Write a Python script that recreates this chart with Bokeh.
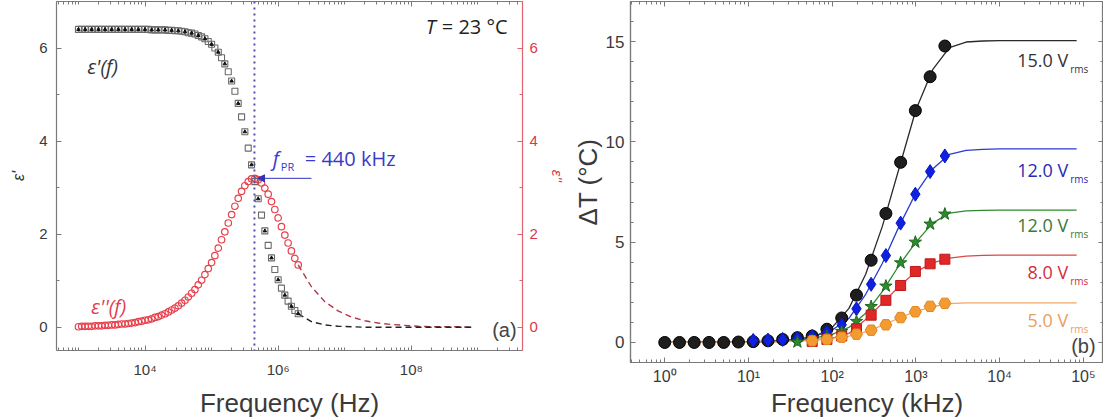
from bokeh.plotting import figure
from bokeh.models import (LogAxis, LinearAxis, FixedTicker, SingleIntervalTicker, Span,
                          Label, Arrow, NormalHead, CustomJSTickFormatter)
from bokeh.layouts import row, column
from bokeh.embed import file_html
from bokeh.resources import INLINE

# ---------------- panel (a): dielectric spectrum (measured points) ----------------
eps_freq_hz = [1.00e3, 1.12e3, 1.26e3, 1.41e3, 1.58e3, 1.78e3, 2.00e3, 2.24e3, 2.51e3, 2.82e3,
               3.16e3, 3.55e3, 3.98e3, 4.47e3, 5.01e3, 5.62e3, 6.31e3, 7.08e3, 7.94e3, 8.91e3,
               1.00e4, 1.12e4, 1.26e4, 1.41e4, 1.58e4, 1.78e4, 2.00e4, 2.24e4, 2.51e4, 2.82e4,
               3.16e4, 3.55e4, 3.98e4, 4.47e4, 5.01e4, 5.62e4, 6.31e4, 7.08e4, 7.94e4, 8.91e4,
               1.00e5, 1.12e5, 1.26e5, 1.41e5, 1.58e5, 1.78e5, 2.00e5, 2.24e5, 2.51e5, 2.82e5,
               3.16e5, 3.55e5, 3.98e5, 4.47e5, 5.01e5, 5.62e5, 6.31e5, 7.08e5, 7.94e5, 8.91e5,
               1.00e6, 1.12e6, 1.26e6, 1.41e6, 1.58e6, 1.78e6, 2.00e6]
eps_real = [6.40, 6.40, 6.40, 6.40, 6.40, 6.40, 6.40, 6.40, 6.40, 6.40,
            6.40, 6.40, 6.40, 6.40, 6.40, 6.40, 6.40, 6.40, 6.40, 6.40,
            6.40, 6.40, 6.39, 6.39, 6.39, 6.39, 6.39, 6.38, 6.38, 6.37,
            6.37, 6.36, 6.35, 6.33, 6.32, 6.30, 6.27, 6.24, 6.20, 6.14,
            6.08, 6.00, 5.91, 5.79, 5.66, 5.49, 5.29, 5.07, 4.81, 4.52,
            4.20, 3.85, 3.49, 3.13, 2.76, 2.41, 2.07, 1.76, 1.49, 1.24,
            1.02, 0.84, 0.69, 0.56, 0.45, 0.36, 0.29]
eps_imag = [0.01, 0.02, 0.02, 0.02, 0.02, 0.03, 0.03, 0.03, 0.04, 0.04,
            0.05, 0.05, 0.06, 0.07, 0.07, 0.08, 0.09, 0.10, 0.12, 0.13,
            0.15, 0.16, 0.18, 0.21, 0.23, 0.26, 0.29, 0.33, 0.37, 0.41,
            0.46, 0.52, 0.58, 0.65, 0.73, 0.81, 0.91, 1.01, 1.13, 1.26,
            1.39, 1.54, 1.70, 1.88, 2.05, 2.24, 2.42, 2.60, 2.77, 2.92,
            3.04, 3.13, 3.19, 3.20, 3.17, 3.10, 2.99, 2.86, 2.70, 2.53,
            2.35, 2.16, 1.98, 1.81, 1.64, 1.48, 1.34]
# fitted relaxation curves (dashed)
fit_freq_hz = [2.0e6, 3.16e6, 5.01e6, 7.94e6, 1.26e7, 2.0e7, 3.16e7, 5.01e7, 7.94e7,
               1.26e8, 2.0e8, 3.16e8, 5.01e8, 7.94e8]
fit_eps_real = [0.29, 0.12, 0.05, 0.02, 0.01, 0.0, 0.0, 0.0, 0.0, 0.0, 0.0, 0.0, 0.0, 0.0]
fit_eps_imag = [1.34, 0.87, 0.55, 0.35, 0.22, 0.14, 0.09, 0.06, 0.04, 0.02, 0.01, 0.01, 0.01, 0.0]
f_pr_hz = 440e3

left_xtick_values = [1e4, 1e6, 1e8]
left_xtick_labels = ["10\u2074", "10\u2076", "10\u2078"]

# ---------------- panel (b): heating vs frequency ----------------
dt_freq_khz = [1, 1.5, 2.25, 3.38, 5.06, 7.59, 11.4, 17.1, 25.6, 38.4,
               57.7, 86.5, 130, 195, 292, 438, 657, 985, 1478, 2217]
dt_15v = [0, 0, 0, 0, 0, 0.02, 0.04, 0.08, 0.15, 0.24,
          0.32, 0.66, 1.22, 2.36, 4.10, 6.43, 8.98, 11.56, 13.25, 14.78]
dt_12v_blue = [0.10, 0.12, 0.15, 0.20, 0.30, 0.51, 0.88, 1.68, 2.90, 4.33, 5.95, 7.39, 8.52, 9.30]
dt_12v_green = [0.02, 0.10, 0.30, 0.55, 1.05, 1.79, 2.81, 3.97, 5.00, 5.90, 6.40]
dt_8v = [0.05, 0.15, 0.32, 0.68, 1.36, 2.10, 2.84, 3.54, 3.92, 4.15]
dt_5v = [0.08, 0.15, 0.26, 0.41, 0.61, 0.88, 1.24, 1.53, 1.80, 1.95]

fit_freq_khz = [1, 10, 25.1, 39.8, 63.1, 100, 158.5, 251.2, 398.1, 631, 1000, 1585,
                2512, 3981, 6310, 10000, 31623, 83176]
fit_15v = [0, 0.02, 0.06, 0.12, 0.30, 0.75, 1.70, 3.40, 5.80, 8.70, 11.60, 13.60,
           14.70, 14.98, 15.03, 15.05, 15.05, 15.05]
fit_12v_blue = [0, 0.03, 0.10, 0.18, 0.33, 0.62, 1.20, 2.40, 3.95, 5.80, 7.45, 8.65,
                9.38, 9.58, 9.63, 9.65, 9.65, 9.65]
fit_12v_green = [0, 0.02, 0.06, 0.12, 0.23, 0.40, 0.75, 1.45, 2.55, 3.85, 5.00, 5.95,
                 6.45, 6.56, 6.59, 6.60, 6.60, 6.60]
fit_8v = [0, 0.01, 0.04, 0.08, 0.14, 0.22, 0.45, 1.15, 1.95, 2.80, 3.52, 3.97,
          4.20, 4.30, 4.34, 4.35, 4.35, 4.35]
fit_5v = [0, 0.01, 0.04, 0.07, 0.12, 0.20, 0.32, 0.53, 0.85, 1.22, 1.55, 1.79,
          1.94, 1.97, 1.97, 1.97, 1.97, 1.97]

series_labels = ["15.0 V", "12.0 V", "12.0 V", "8.0 V", "5.0 V"]
right_xtick_values = [1, 10, 100, 1000, 10000, 100000]
right_xtick_labels = ["10\u2070", "10\u00b9", "10\u00b2", "10\u00b3", "10\u2074", "10\u2075"]

# ---------------- styling constants ----------------
AX = "#7a7a7a"
TXT = "#3a3a3a"
RED_AX = "#e0606e"
RED_TXT = "#d8394a"
FONT = "Liberation Sans"
AFONT = "Open Sans"


def minor_list(lo_exp, hi_exp, skip=()):
    out = []
    for e in range(lo_exp, hi_exp + 1):
        for m in range(1, 10):
            if m == 1 and (10.0 ** e) in skip:
                continue
            out.append(m * 10.0 ** e)
    return out


def label_formatter(vals, labs):
    return CustomJSTickFormatter(args=dict(vals=vals, labs=labs), code="""
        for (let i = 0; i < vals.length; i++) {
            if (Math.abs(Math.log10(tick) - Math.log10(vals[i])) < 1e-6) { return labs[i]; }
        }
        return ' ';
    """)


def style_axis(ax, color=AX, label_color=TXT, size="15px"):
    ax.axis_line_color = color
    ax.axis_line_width = 1.2
    ax.major_tick_line_color = color
    ax.minor_tick_line_color = color
    ax.major_tick_in = 5
    ax.major_tick_out = 0
    ax.minor_tick_in = 3
    ax.minor_tick_out = 0
    ax.major_label_text_color = label_color
    ax.major_label_text_font = FONT
    ax.major_label_text_font_size = size
    ax.axis_label_text_font = FONT
    ax.axis_label_text_font_style = "normal"
    ax.axis_label_text_color = TXT


def blank_axis(ax):
    ax.major_label_text_font_size = "1px"
    ax.major_label_text_alpha = 0
    ax.major_label_standoff = 0


def lab(p, x, y, text, color=TXT, size="20px", style="normal", align="left",
        xo=0, yo=0, font=AFONT):
    p.add_layout(Label(x=x, y=y, text=text, text_color=color, text_font=font,
                       text_font_size=size, text_font_style=style, text_align=align,
                       text_baseline="middle", x_offset=xo, y_offset=yo))


# ================= panel (a) =================
p1 = figure(width=568, height=420, x_axis_type="log", x_range=(468, 4.68e9), y_range=(-0.5, 7),
            output_backend="svg", toolbar_location=None,
            min_border_left=56, min_border_right=45, min_border_top=1, min_border_bottom=60)
p1.outline_line_color = None
p1.xgrid.visible = False
p1.ygrid.visible = False

ticker1 = FixedTicker(ticks=left_xtick_values, minor_ticks=minor_list(2, 9, skip=left_xtick_values))
xa1 = p1.xaxis[0]
xa1.ticker = ticker1
xa1.formatter = label_formatter(left_xtick_values, left_xtick_labels)
style_axis(xa1)
xa1.major_label_standoff = 10
xa1.axis_label = "Frequency (Hz)"
xa1.axis_label_text_font_size = "26px"
xa1.axis_label_standoff = 7

ya1 = p1.yaxis[0]
ya1.ticker = SingleIntervalTicker(interval=2, num_minor_ticks=2)
style_axis(ya1)
ya1.major_label_standoff = 9
ya1.axis_label = "\u03b5'"
ya1.axis_label_text_font_size = "16px"
ya1.axis_label_text_font_style = "italic"
ya1.axis_label_text_color = "#333333"
ya1.axis_label_standoff = 9

top1 = LogAxis(ticker=ticker1)
style_axis(top1)
blank_axis(top1)
p1.add_layout(top1, "above")

ra1 = LinearAxis(ticker=SingleIntervalTicker(interval=2, num_minor_ticks=2))
style_axis(ra1, color=RED_AX, label_color=RED_TXT)
ra1.major_label_standoff = 7
ra1.axis_label = "\u03b5''"
ra1.axis_label_text_color = RED_TXT
ra1.axis_label_text_font_size = "15px"
ra1.axis_label_text_font_style = "italic"
ra1.axis_label_standoff = 8
p1.add_layout(ra1, "right")

p1.add_layout(Span(location=f_pr_hz, dimension="height", line_color="#5050a8",
                   line_dash="2 4", line_width=2))

p1.line(fit_freq_hz, fit_eps_imag, line_color="#b03848", line_dash="6 4", line_width=1.4)
p1.line(fit_freq_hz, fit_eps_real, line_color="#222222", line_dash="6 4", line_width=1.4)
p1.scatter(eps_freq_hz, eps_imag, marker="circle", size=6.5, fill_color=None,
           line_color="#e8404c", line_width=1.2)
p1.scatter(eps_freq_hz, eps_real, marker="square", size=6, fill_color=None,
           line_color="#6a6a6a", line_width=1.1)
p1.scatter(eps_freq_hz[::2], eps_real[::2], marker="triangle", size=3.5, fill_color="#111111",
           line_color="#111111")

p1.add_layout(Arrow(end=NormalHead(size=7, fill_color="#3030c0", line_color="#3030c0"),
                    x_start=3.16e6, y_start=3.2, x_end=4.9e5, y_end=3.2,
                    line_color="#3030c0", line_width=1))

lab(p1, 1.65e8, 6.47, "T", color="#222222", style="italic")
lab(p1, 1.65e8, 6.47, "= 23 \u00b0C", color="#222222", xo=16)
lab(p1, 1350, 5.61, "\u03b5'(f)", color="#333333", style="italic")
lab(p1, 1550, 0.44, "\u03b5''(f)", color="#e04050", style="italic")
lab(p1, 8.3e5, 3.62, "f", color="#3a3ac8", style="italic")
lab(p1, 8.3e5, 3.62, "PR", color="#3a3ac8", size="11px", xo=8, yo=-8)
lab(p1, 8.3e5, 3.62, "= 440 kHz", color="#3a3ac8", xo=32)
lab(p1, 2.5e9, -0.07, "(a)", color="#444444", align="center", font=FONT)

# ================= panel (b) =================
p2 = figure(width=535, height=420, x_axis_type="log", x_range=(0.39, 1.74e5), y_range=(-1, 17),
            output_backend="svg", toolbar_location=None,
            min_border_left=62, min_border_right=0, min_border_top=1, min_border_bottom=50)
p2.outline_line_color = AX
p2.outline_line_width = 1.2
p2.xgrid.visible = False
p2.ygrid.visible = False

ticker2 = FixedTicker(ticks=right_xtick_values,
                      minor_ticks=minor_list(-1, 5, skip=right_xtick_values))
xa2 = p2.xaxis[0]
xa2.ticker = ticker2
xa2.formatter = label_formatter(right_xtick_values, right_xtick_labels)
style_axis(xa2, size="16px")
xa2.major_label_standoff = 5
xa2.axis_label = "Frequency (kHz)"
xa2.axis_label_text_font_size = "26px"
xa2.axis_label_standoff = 0

yticker2 = SingleIntervalTicker(interval=5, num_minor_ticks=5)
ya2 = p2.yaxis[0]
ya2.ticker = yticker2
style_axis(ya2, size="17px")
ya2.major_label_standoff = 6
ya2.axis_label = "\u0394T (\u00b0C)"
ya2.axis_label_text_font_size = "26px"
ya2.axis_label_standoff = 0

top2 = LogAxis(ticker=ticker2)
style_axis(top2)
blank_axis(top2)
p2.add_layout(top2, "above")

right2 = LinearAxis(ticker=yticker2)
style_axis(right2)
blank_axis(right2)
p2.add_layout(right2, "right")

fits = [(fit_15v, "#2a2a2a"), (fit_12v_blue, "#2a3ad0"), (fit_12v_green, "#2f8a2f"),
        (fit_8v, "#d84848"), (fit_5v, "#f0a868")]
for vals, col in fits:
    p2.line(fit_freq_khz, vals, line_color=col, line_width=1.3)

p2.scatter(dt_freq_khz, dt_15v, marker="circle", size=12, fill_color="#1e1e1e",
           line_color="#000000", line_width=1)
p2.scatter(dt_freq_khz[6:], dt_12v_blue, marker="diamond", size=14, fill_color="#1020e0",
           line_color="#0a18c0", line_width=1)
p2.scatter(dt_freq_khz[9:], dt_12v_green, marker="star", size=13, fill_color="#2e8a2e",
           line_color="#1e6a1e", line_width=1)
p2.scatter(dt_freq_khz[10:], dt_8v, marker="square", size=10, fill_color="#e02828",
           line_color="#c01818", line_width=1)
p2.scatter(dt_freq_khz[10:], dt_5v, marker="hex", size=12, fill_color="#f39a30",
           line_color="#e08820", line_width=1)

label_y = [14.1, 8.6, 5.85, 3.5, 1.1]
label_colors = ["#333333", "#2a2ab0", "#3a7a3a", "#d03040", "#e8a060"]
for txt, yv, col in zip(series_labels, label_y, label_colors):
    lab(p2, 6.6e4, yv, txt, color=col, size="18px", align="right")
    lab(p2, 6.6e4, yv, "rms", color=col, size="10px", xo=2, yo=-9)
lab(p2, 1.0e5, -0.2, "(b)", color="#444444", align="center", font=FONT)

layout = row(p1, column(p2))
open("out.html", "w").write(file_html(layout, INLINE))
